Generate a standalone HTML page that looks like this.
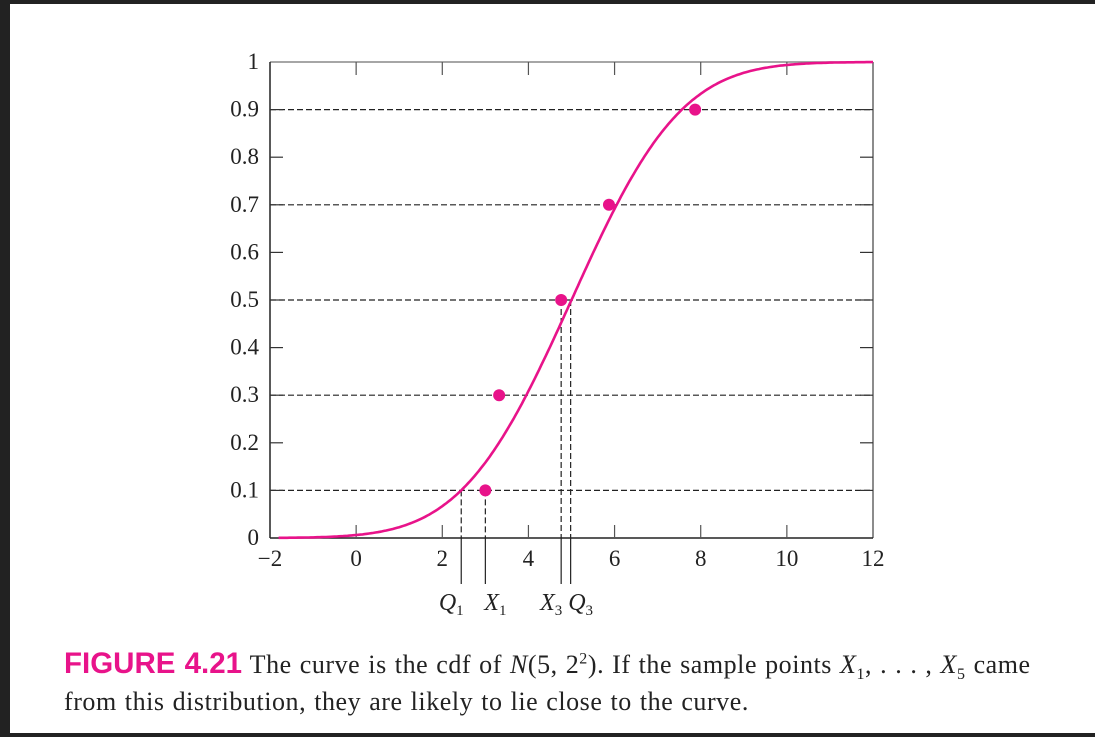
<!DOCTYPE html>
<html><head><meta charset="utf-8"><style>
html,body{margin:0;padding:0;background:#fff;}
body{width:1095px;height:737px;position:relative;overflow:hidden;}
sup,sub{line-height:0;}
</style></head><body>
<div style="position:absolute;left:0;top:0;width:10px;height:737px;background:#222"></div>
<div style="position:absolute;left:0;top:0;width:1095px;height:4px;background:#222"></div>
<div style="position:absolute;left:0;top:733px;width:1095px;height:4px;background:#222"></div>
<svg id="chart" width="1095" height="737" style="position:absolute;left:0;top:0" xmlns="http://www.w3.org/2000/svg"></svg>
<div style="position:absolute;left:64px;top:645px;width:1030px;white-space:nowrap;font-family:'Liberation Serif',serif;font-size:26px;letter-spacing:0.55px;word-spacing:1px;line-height:37px;color:#222">
<span style="font-family:'Liberation Sans',sans-serif;font-weight:bold;color:#e8138a;font-size:29.5px;letter-spacing:0">FIGURE 4.21</span> The curve is the cdf of <i>N</i>(5, 2<sup style="font-size:16px">2</sup>). If the sample points <i>X</i><sub style="font-size:16px">1</sub>, . . . , <i>X</i><sub style="font-size:16px">5</sub> came<br>from this distribution, they are likely to lie close to the curve.
</div>
<script>
const xTicks=[-2,0,2,4,6,8,10,12];
const yTicks=[0,0.1,0.2,0.3,0.4,0.5,0.6,0.7,0.8,0.9,1];
const yTickLabels=["0","0.1","0.2","0.3","0.4","0.5","0.6","0.7","0.8","0.9","1"];
const dashedLevels=[0.1,0.3,0.5,0.7,0.9];
const sampleX=[3.0,3.32,4.76,5.87,7.87];
const sampleY=[0.1,0.3,0.5,0.7,0.9];
const markerX=[2.44,3.0,4.76,4.98];
const markerY=[0.1,0.1,0.5,0.5];
const markerLabels=["Q","X","X","Q"];
const markerSubs=["1","1","3","3"];
const mu=5, sigma=2;
const ns="http://www.w3.org/2000/svg";
const svg=document.getElementById('chart');
const X=v=>270+(v+2)*(603/14);
const Y=v=>538-v*476;
function mk(tag,attrs){const e=document.createElementNS(ns,tag);for(const k in attrs)e.setAttribute(k,attrs[k]);svg.appendChild(e);return e;}
function erf(x){const s=Math.sign(x);x=Math.abs(x);const t=1/(1+0.3275911*x);const y=1-(((((1.061405429*t-1.453152027)*t)+1.421413741)*t-0.284496736)*t+0.254829592)*t*Math.exp(-x*x);return s*y;}
dashedLevels.forEach(v=>{const l=mk('line',{x1:X(-2),x2:X(12),y1:Y(v),y2:Y(v),stroke:'#222','stroke-width':1.2,'stroke-dasharray':'6,3'});

});
let f=mk('line',{x1:X(-2),x2:X(12),y1:Y(1),y2:Y(1),stroke:'#888','stroke-width':1.5});

f=mk('line',{x1:X(12),x2:X(12),y1:Y(1),y2:Y(0),stroke:'#666','stroke-width':1.5});

f=mk('line',{x1:X(-2),x2:X(-2),y1:Y(1),y2:Y(0),stroke:'#222','stroke-width':1.5});

f=mk('line',{x1:X(-2),x2:X(12),y1:Y(0),y2:Y(0),stroke:'#222','stroke-width':1.5});

yTicks.forEach((v,i)=>{
 if(v>0&&v<1){const t=mk('line',{x1:X(-2),x2:X(-2)+13,y1:Y(v),y2:Y(v),stroke:'#333','stroke-width':1.2});
 
 const r=mk('line',{x1:X(12)-13,x2:X(12),y1:Y(v),y2:Y(v),stroke:'#333','stroke-width':1.2});
 }
 const tx=mk('text',{x:259,y:Y(v)+7,'text-anchor':'end','font-family':'Liberation Serif, serif','font-size':23,fill:'#222'});
 tx.textContent=yTickLabels[i];
 
});
xTicks.forEach(v=>{
 if(v>-2&&v<12){const t=mk('line',{x1:X(v),x2:X(v),y1:Y(0),y2:Y(0)-13,stroke:'#555','stroke-width':1.2});
 
 const u=mk('line',{x1:X(v),x2:X(v),y1:Y(1),y2:Y(1)+13,stroke:'#555','stroke-width':1.2});
 }
 const tx=mk('text',{x:X(v),y:566,'text-anchor':'middle','font-family':'Liberation Serif, serif','font-size':23,fill:'#222'});
 tx.textContent=v<0?'\u2212'+(-v):String(v);
 
});
markerX.forEach((v,i)=>{
 const d=mk('line',{x1:X(v),x2:X(v),y1:Y(markerY[i]),y2:Y(0),stroke:'#222','stroke-width':1.2,'stroke-dasharray':'6,3'});
 
 const s=mk('line',{x1:X(v),x2:X(v),y1:Y(0),y2:584,stroke:'#222','stroke-width':1.2});
 
 const tx=mk('text',{x:X(v)+(i===0||i===2?-10:10),y:610,'text-anchor':'middle','font-family':'Liberation Serif, serif','font-size':24,'font-style':'italic',fill:'#222'});
 
 tx.innerHTML=markerLabels[i]+'<tspan font-size="15" font-style="normal" dy="5">'+markerSubs[i]+'</tspan>';
});
let d='';for(let x=-1.8;x<=12.001;x+=0.05){const p=0.5*(1+erf((x-mu)/(sigma*Math.SQRT2)));d+=(d?'L':'M')+X(x).toFixed(1)+','+Y(p).toFixed(1);}
const c=mk('path',{d:d,fill:'none',stroke:'#e8138a','stroke-width':2.6});

sampleX.forEach((v,i)=>{const p=mk('circle',{cx:X(v),cy:Y(sampleY[i]),r:6,fill:'#e8138a'});
});
</script>
</body></html>
